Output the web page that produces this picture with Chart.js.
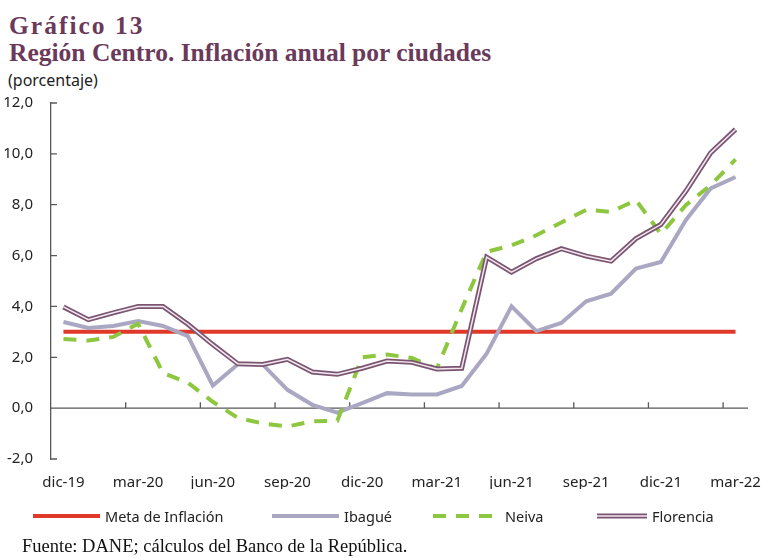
<!DOCTYPE html>
<html lang="es">
<head>
    <meta charset="UTF-8">
    <title>Región Centro. Inflación anual por ciudades</title>
    <script src="https://cdn.jsdelivr.net/npm/chart.js"></script>
    <style>
        body {
            margin: 0;
            width: 763px;
            height: 558px;
            position: relative;
            background: #fff;
            overflow: hidden;
            font-family: 'Noto Sans', sans-serif;
        }
        .titulo {
            position: absolute;
            left: 9px;
            font-family: 'Liberation Serif', serif;
            font-weight: bold;
            font-size: 25.5px;
            line-height: 26px;
            color: #6b3a5b;
            white-space: nowrap;
        }
        .unidad {
            position: absolute;
            left: 8px;
            top: 72px;
            font-size: 16px;
            line-height: 16px;
            color: #222;
        }
        #wrap {
            position: absolute;
            left: 0;
            top: 0;
            width: 763px;
            height: 558px;
        }
        .leyenda {
            position: absolute;
            top: 506px;
            height: 20px;
            display: flex;
            align-items: center;
            font-size: 14.5px;
            color: #222;
            white-space: nowrap;
        }
        .leyenda svg {
            margin-right: 5px;
        }
        .fuente {
            position: absolute;
            left: 22px;
            top: 537px;
            font-family: 'Liberation Serif', serif;
            font-size: 18.5px;
            line-height: 19px;
            color: #111;
            white-space: nowrap;
        }
    </style>
</head>
<body>
    <div class="titulo" style="top:13px; letter-spacing:2px">Gráfico 13</div>
    <div class="titulo" style="top:40px">Región Centro. Inflación anual por ciudades</div>
    <div class="unidad">(porcentaje)</div>

    <div id="wrap"><canvas id="chart"></canvas></div>

    <!-- leyenda -->
    <div class="leyenda" style="left:33px">
        <svg width="67" height="8"><line x1="0" y1="4" x2="67" y2="4" stroke="#e0392a" stroke-width="4"/></svg>Meta de Inflación
    </div>
    <div class="leyenda" style="left:272px">
        <svg width="67" height="8"><line x1="0" y1="4" x2="67" y2="4" stroke="#aaa7c2" stroke-width="4"/></svg>Ibagué
    </div>
    <div class="leyenda" style="left:433px">
        <svg width="67" height="8"><line x1="0" y1="4" x2="67" y2="4" stroke="#8dc63f" stroke-width="4" stroke-dasharray="13 10"/></svg>Neiva
    </div>
    <div class="leyenda" style="left:597px">
        <svg width="50" height="8"><line x1="0" y1="4" x2="50" y2="4" stroke="#7b5672" stroke-width="5"/><line x1="0" y1="4" x2="50" y2="4" stroke="#f4e8ef" stroke-width="1.5"/></svg>Florencia
    </div>

    <div class="fuente">Fuente: DANE; cálculos del Banco de la República.</div>

    <script>
        // meses (dic-19 a mar-22)
        var meses = ['dic-19', 'ene-20', 'feb-20', 'mar-20', 'abr-20', 'may-20', 'jun-20', 'jul-20',
                     'ago-20', 'sep-20', 'oct-20', 'nov-20', 'dic-20', 'ene-21', 'feb-21', 'mar-21',
                     'abr-21', 'may-21', 'jun-21', 'jul-21', 'ago-21', 'sep-21', 'oct-21', 'nov-21',
                     'dic-21', 'ene-22', 'feb-22', 'mar-22'];

        var meta = [3, 3, 3, 3, 3, 3, 3, 3, 3, 3, 3, 3, 3, 3, 3, 3, 3, 3, 3, 3, 3, 3, 3, 3, 3, 3, 3, 3];

        var ibague = [3.39, 3.15, 3.23, 3.43, 3.23, 2.83, 0.89, 1.72, 1.72, 0.72, 0.13, -0.18, 0.2, 0.59,
                      0.54, 0.54, 0.87, 2.14, 4.0, 3.03, 3.35, 4.2, 4.5, 5.49, 5.75, 7.39, 8.64, 9.09];

        var neiva = [2.72, 2.66, 2.8, 3.32, 1.38, 1.0, 0.25, -0.38, -0.6, -0.72, -0.52, -0.5, 2.0, 2.11,
                     1.97, 1.55, 3.9, 6.15, 6.4, 6.8, 7.3, 7.8, 7.72, 8.18, 6.85, 7.98, 8.77, 9.78];

        var florencia = [3.98, 3.48, 3.75, 4.0, 4.0, 3.3, 2.5, 1.75, 1.72, 1.92, 1.42, 1.33, 1.57, 1.85,
                         1.8, 1.54, 1.57, 5.94, 5.35, 5.88, 6.27, 5.98, 5.78, 6.67, 7.22, 8.53, 10.04, 10.96];

        var yTicks = [-2, 0, 2, 4, 6, 8, 10, 12];

        var colorEje = '#595959';

        // linea del cero, marcas del eje x cada 3 meses y marcas internas del eje y
        var marcasEjes = {
            id: 'marcasEjes',
            beforeDatasetsDraw: function(chart) {
                var ctx = chart.ctx;
                var area = chart.chartArea;
                var x = chart.scales.x;
                var y = chart.scales.y;
                var y0 = y.getPixelForValue(0);
                ctx.save();
                ctx.strokeStyle = colorEje;
                ctx.lineWidth = 1.3;
                ctx.beginPath();
                ctx.moveTo(area.left, y0);
                ctx.lineTo(area.right, y0);
                for (var i = 3; i < meses.length; i += 3) {
                    var px = (x.getPixelForValue(i - 1) + x.getPixelForValue(i)) / 2;
                    ctx.moveTo(px, y0);
                    ctx.lineTo(px, y0 - 6);
                }
                yTicks.forEach(function(v) {
                    var py = y.getPixelForValue(v);
                    ctx.moveTo(area.left, py);
                    ctx.lineTo(area.left + 6, py);
                });
                ctx.stroke();
                ctx.restore();
            }
        };

        var ctx = document.getElementById('chart').getContext('2d');
        var chart = new Chart(ctx, {
            type: 'line',
            data: {
                labels: meses,
                datasets: [
                    { label: 'Meta de Inflación', data: meta, borderColor: '#e0392a', borderWidth: 4, order: 4 },
                    { label: 'Ibagué', data: ibague, borderColor: '#aaa7c2', borderWidth: 4, order: 3 },
                    { label: 'Neiva', data: neiva, borderColor: '#8dc63f', borderWidth: 4, borderDash: [13, 10], order: 2 },
                    { label: 'Florencia', data: florencia, borderColor: '#7b5672', borderWidth: 5, order: 1 },
                    { label: 'Florencia (centro)', data: florencia, borderColor: '#f4e8ef', borderWidth: 1.5, order: 0 }
                ]
            },
            options: {
                responsive: true,
                maintainAspectRatio: false,
                animation: false,
                layout: { padding: { top: 103, right: 15, bottom: 69, left: 0 } },
                elements: {
                    point: { radius: 0, hoverRadius: 0 },
                    line: { tension: 0, borderJoinStyle: 'miter' }
                },
                plugins: {
                    legend: { display: false },
                    tooltip: { enabled: false }
                },
                scales: {
                    x: {
                        offset: true,
                        grid: { display: false },
                        border: { display: false },
                        afterFit: function(scale) {
                            scale.height = 30;
                            scale.paddingLeft = 0;
                            scale.paddingRight = 0;
                        },
                        ticks: {
                            autoSkip: false,
                            maxRotation: 0,
                            padding: 7,
                            color: '#222',
                            font: { family: 'Noto Sans', size: 15 },
                            callback: function(val, i) { return i % 3 === 0 ? meses[i] : ''; }
                        }
                    },
                    y: {
                        min: -2,
                        max: 12,
                        grid: { display: false },
                        border: { display: true, color: colorEje, width: 1.3 },
                        afterFit: function(scale) { scale.width = 51; },
                        ticks: {
                            stepSize: 2,
                            padding: 10,
                            color: '#222',
                            font: { family: 'Noto Sans', size: 15 },
                            callback: function(v) { return v.toFixed(1).replace('.', ','); }
                        }
                    }
                }
            },
            plugins: [marcasEjes]
        });
    </script>
</body>
</html>
